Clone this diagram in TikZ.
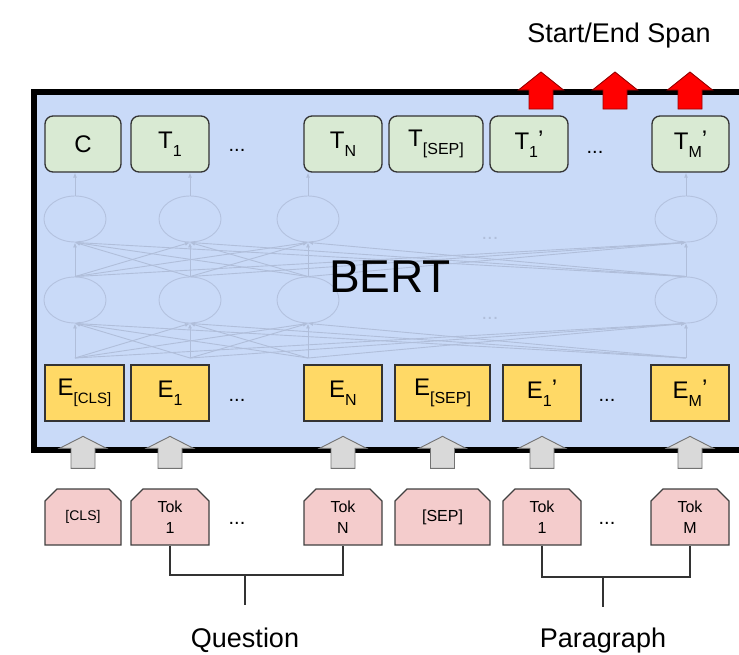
\documentclass[tikz,border=0pt]{standalone}
\usepackage{fontspec}
\setmainfont{Liberation Sans}
\usetikzlibrary{arrows.meta, shapes.misc, shapes.geometric, calc}

\definecolor{bertblue}{HTML}{C9DAF8}
\definecolor{outgreen}{HTML}{D9EAD3}
\definecolor{embyellow}{HTML}{FFD966}
\definecolor{tokpink}{HTML}{F4CCCC}
\definecolor{liftgray}{HTML}{D9D9D9}
\definecolor{netfade}{RGB}{176,190,218}

\newcommand{\fsz}[1]{\fontsize{#1}{#1}\selectfont}
\newcommand{\lowsub}[1]{\raisebox{-8pt}{\fsz{16}#1}}
\newcommand{\tick}{\raisebox{2pt}{'}}

\tikzset{
    outbox/.style={draw=black!80, line width=1.3pt, fill=outgreen, rounded corners=8pt,
        minimum height=56pt, inner sep=0pt, font=\fsz{24}},
    embbox/.style={draw=black!80, line width=1.3pt, fill=embyellow,
        minimum height=56pt, inner sep=0pt, font=\fsz{24}},
    tokbox/.style={draw=black!75, line width=1.3pt, fill=tokpink, chamfered rectangle,
        chamfered rectangle corners={north west,north east}, chamfered rectangle xsep=6pt,
        chamfered rectangle ysep=6pt, minimum height=56pt, inner sep=0pt, align=center,
        font=\fontsize{16}{21}\selectfont},
    neuron/.style={ellipse, draw=netfade!85!bertblue, line width=0.9pt, minimum width=62pt, minimum height=46pt},
    netarrow/.style={draw=netfade, line width=0.9pt, -{Latex[length=5pt,width=4pt]}},
    gap/.style={font=\fsz{20}, inner sep=0pt},
    liftup/.pic={\draw[draw=black!55, fill=liftgray, line width=0.9pt]
        (-12,0) -- (-12,-20) -- (-23.5,-20) -- (0,-32) -- (23.5,-20) -- (12,-20) -- (12,0) -- cycle;},
    spanup/.pic={\draw[draw=red!60!black, fill=red, line width=0.9pt]
        (-12,0) -- (-12,-19) -- (-22.5,-19) -- (0,-37) -- (22.5,-19) -- (12,-19) -- (12,0) -- cycle;}
}

\begin{document}
\begin{tikzpicture}[x=1pt, y=-1pt]
    \useasboundingbox (0,0) rectangle (739,654);
    \clip (0,0) rectangle (739,654);

    % the BERT block
    \draw[line width=5.5pt, fill=bertblue] (34,92) rectangle (800,450);

    % faded network
    \foreach \n/\x in {1/75, 2/190, 3/308, 4/686} {
        \node[neuron] (u\n) at (\x,219) {};
        \node[neuron] (l\n) at (\x,300) {};
        \coordinate (in\n) at (\x,358);
    }
    \node[gap, text=netfade] (updots) at (490,238) {...};
    \node[gap, text=netfade] (lodots) at (490,318) {...};

    % outputs
    \node[outbox, minimum width=76pt] (c) at (83,144) {C};
    \node[outbox, minimum width=78pt] (t1) at (170,144) {T\lowsub{1}};
    \node[gap] (tdots) at (237,150) {...};
    \node[outbox, minimum width=78pt] (tn) at (343,144) {T\lowsub{N}};
    \node[outbox, minimum width=94pt] (tsep) at (436,144) {T\lowsub{[SEP]}};
    \node[outbox, minimum width=78pt] (tp1) at (529,144) {T\lowsub{1}\tick};
    \node[gap] (tpdots) at (595,152) {...};
    \node[outbox, minimum width=77pt] (tpm) at (690.5,144) {T\lowsub{M}\tick};

    \foreach \i in {1,...,4} {
        \draw[netarrow] (u\i.north) -- (u\i.north |- c.south);
        \foreach \j in {1,...,4} {
            \draw[netarrow] (l\i.north) -- (u\j.south);
            \draw[netarrow] (in\i) -- (l\j.south);
        }
    }

    \node[font=\fsz{46}, anchor=base] (bert) at (390,292) {BERT};

    % embeddings
    \node[embbox, minimum width=79pt] (ecls) at (84.5,393) {E\lowsub{\fsz{15}[CLS]}};
    \node[embbox, minimum width=78pt] (e1) at (170,393) {E\lowsub{1}};
    \node[gap] (edots) at (237,400) {...};
    \node[embbox, minimum width=78pt] (en) at (343,393) {E\lowsub{N}};
    \node[embbox, minimum width=95pt] (esep) at (442.5,393) {E\lowsub{[SEP]}};
    \node[embbox, minimum width=78pt] (ep1) at (542,393) {E\lowsub{1}\tick};
    \node[gap] (epdots) at (607,400) {...};
    \node[embbox, minimum width=78pt] (epm) at (690,393) {E\lowsub{M}\tick};

    % input tokens
    \node[tokbox, minimum width=76pt, font=\fsz{14}] (kcls) at (83,517) {[CLS]};
    \node[tokbox, minimum width=78pt] (q1) at (170,517) {Tok\\1};
    \node[gap] (qdots) at (237,523) {...};
    \node[tokbox, minimum width=78pt] (qn) at (343,517) {Tok\\N};
    \node[tokbox, minimum width=95pt] (ksep) at (442.5,517) {[SEP]};
    \node[tokbox, minimum width=78pt] (p1) at (542,517) {Tok\\1};
    \node[gap] (pdots) at (607,523) {...};
    \node[tokbox, minimum width=78pt] (pm) at (690,517) {Tok\\M};

    \foreach \k in {kcls, q1, qn, ksep, p1, pm}
        \pic at ([yshift=20pt]\k.north) {liftup};

    \foreach \x in {541, 615, 690}
        \pic at (\x,109) {spanup};

    \node[font=\fsz{27}, anchor=base] (span) at (619,42) {Start/End Span};

    % brackets under the tokens
    \coordinate (qbar) at (245,575);
    \coordinate (qend) at (245,605);
    \draw[line width=1.2pt, black!80] (q1.south) -- (q1.south |- qbar) -- (qn.south |- qbar) -- (qn.south);
    \draw[line width=1.2pt, black!80] (qbar) -- (qend);
    \node[font=\fsz{27}, anchor=base] (question) at (245,647) {Question};

    \coordinate (pbar) at (603,577);
    \coordinate (pend) at (603,607);
    \draw[line width=1.2pt, black!80] (p1.south) -- (p1.south |- pbar) -- (pm.south |- pbar) -- (pm.south);
    \draw[line width=1.2pt, black!80] (pbar) -- (pend);
    \node[font=\fsz{27}, anchor=base] (paragraph) at (603,647) {Paragraph};
\end{tikzpicture}
\end{document}
